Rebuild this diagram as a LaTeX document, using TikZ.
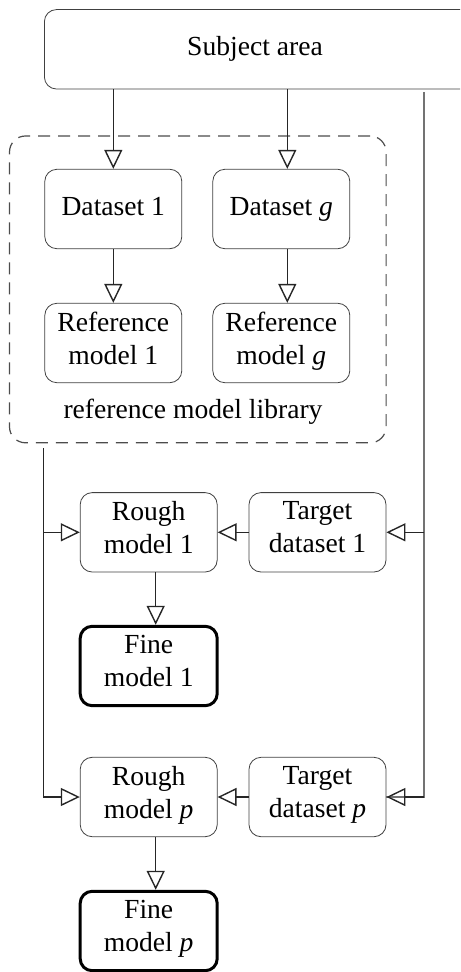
\documentclass[tikz,border=0pt]{standalone}
\usepackage{fontspec}
\setmainfont{Liberation Serif}
\usetikzlibrary{arrows.meta}
\tikzstyle{block}=[draw=black!75, rounded corners=6pt, minimum width=68.5pt, minimum height=39.7pt, align=center, inner sep=2pt, execute at begin node=\strut, execute at end node=\strut, font=\fontsize{13.8}{16.5}\selectfont]
\tikzstyle{fine block}=[block, draw=black, line width=1.5pt]
\tikzstyle{library}=[draw=black!70, dashed, dash pattern=on 6pt off 4pt, rounded corners=8pt, line width=0.6pt]
\tikzstyle{connector}=[draw=black!85, line width=0.7pt, -{Triangle[open, length=9.5pt, width=9pt]}]
\tikzstyle{feed}=[draw=black!55, line width=0.7pt]

\begin{document}
\begin{tikzpicture}[x=0.5pt, y=-0.5pt]
      \useasboundingbox (0, 0) rectangle (460, 972);
      \clip (0, 0) rectangle (460, 972);

      \node[block, minimum width=230pt, anchor=west] (subject) at (44, 49.3) {};
      \node[font=\fontsize{13.8}{16.5}\selectfont] (subject_label) at (255, 49.3) {\strut Subject area};

      \node[library, minimum width=188.3pt, minimum height=153.4pt] (library) at (197.8, 289.4) {};
      \node[anchor=base, font=\fontsize{13.8}{16.5}\selectfont] (library_label) at (193, 418) {reference model library};

      \node[block] (data_1) at (113.3, 209) {Dataset 1};
      \node[block] (data_g) at (281.3, 209) {Dataset \textit{g}};
      \node[block] (ref_1) at (113.3, 343) {Reference\\model 1};
      \node[block] (ref_g) at (281.3, 343) {Reference\\model \textit{g}};

      \node[block] (rough_1) at (148.7, 532.3) {Rough\\model 1};
      \node[block] (target_1) at (317.5, 532.3) {Target\\dataset 1};
      \node[fine block] (fine_1) at (148.7, 666) {Fine\\model 1};

      \node[block] (rough_p) at (148.7, 797) {Rough\\model \textit{p}};
      \node[block] (target_p) at (317.5, 797) {Target\\dataset \textit{p}};
      \node[fine block] (fine_p) at (148.7, 931) {Fine\\model \textit{p}};

      \coordinate (left_in) at (43.3, 448);
      \coordinate (right_in) at (424, 92);

      \draw[connector] (subject.south -| data_1.north) -- (data_1.north);
      \draw[connector] ([xshift=3pt]subject.south -| data_g.north) -- ([xshift=3pt]data_g.north);
      \draw[connector] (data_1) -- (ref_1);
      \draw[connector] ([xshift=3pt]data_g.south) -- ([xshift=3pt]ref_g.north);

      \draw[connector] (left_in) |- (rough_p.west);
      \draw[connector] (left_in |- rough_1.west) -- (rough_1.west);

      \draw[feed] (right_in) |- (target_p.east);
      \draw[connector] (right_in |- target_1.east) -- (target_1.east);
      \draw[connector] (right_in |- target_p.east) -- (target_p.east);

      \draw[connector] (target_1) -- (rough_1);
      \draw[connector] (target_p) -- (rough_p);
      \draw[connector] ([xshift=3.5pt]rough_1.south) -- ([xshift=3.5pt]fine_1.north);
      \draw[connector] ([xshift=3.5pt]rough_p.south) -- ([xshift=3.5pt]fine_p.north);
    \end{tikzpicture}
\end{document}
